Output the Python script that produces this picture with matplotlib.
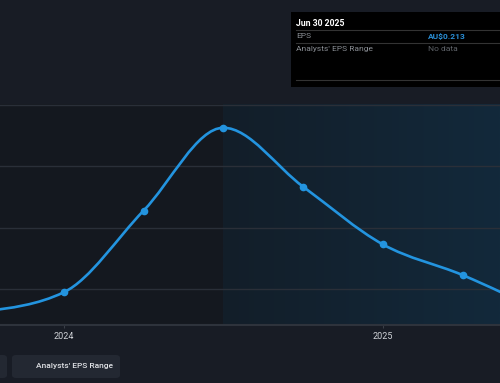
import numpy as np
import matplotlib
matplotlib.use("Agg")
import matplotlib.pyplot as plt
from matplotlib.path import Path
from matplotlib.patches import PathPatch, Rectangle, FancyBboxPatch

# EPS by quarter end (fractional year)
quarters = [2023.75, 2024.0, 2024.25, 2024.5, 2024.75, 2025.0, 2025.25, 2025.5]
eps = [0.214, 0.245, 0.378, 0.513, 0.417, 0.323, 0.273, 0.213]
year_ticks = [2024, 2025]
year_labels = ["2024", "2025"]
grid_vals = [0.25, 0.35, 0.45, 0.55]
forecast_start = 2024.5

BG = "#181c25"
PAST = "#14181f"
BLUE = "#2394df"
GRID = "#2a2f38"
plt.rcParams["font.family"] = ["Roboto", "DejaVu Sans"]


def monotone_path(x, y):
    # d3 curveMonotoneX style cubic bezier
    x = np.asarray(x, float)
    y = np.asarray(y, float)
    n = len(x)
    h = np.diff(x)
    s = np.diff(y) / h
    t = np.zeros(n)
    for i in range(1, n - 1):
        p = (s[i - 1] * h[i] + s[i] * h[i - 1]) / (h[i - 1] + h[i])
        t[i] = (np.sign(s[i - 1]) + np.sign(s[i])) * min(abs(s[i - 1]), abs(s[i]), 0.5 * abs(p))
    t[0] = (3 * s[0] - t[1]) / 2
    t[-1] = (3 * s[-1] - t[-2]) / 2
    verts = [(x[0], y[0])]
    codes = [Path.MOVETO]
    for i in range(n - 1):
        dx = h[i] / 3
        verts += [(x[i] + dx, y[i] + t[i] * dx), (x[i + 1] - dx, y[i + 1] - t[i + 1] * dx), (x[i + 1], y[i + 1])]
        codes += [Path.CURVE4] * 3
    return Path(verts, codes)


fig = plt.figure(figsize=(5, 3.83), dpi=100)
fig.patch.set_facecolor(BG)
ax = fig.add_axes([0, 58 / 383, 1, 221 / 383])
ax.set_facecolor(PAST)

x0, x1 = 2023.80, 2025.367
y0, y1 = 0.1917, 0.5517
ax.set_xlim(x0, x1)
ax.set_ylim(y0, y1)

# forecast shading, gradient left to right
grad = np.linspace(0, 1, 256).reshape(1, -1)
cmap = matplotlib.colors.LinearSegmentedColormap.from_list("fc", ["#131e29", "#12293b"])
ax.imshow(grad, cmap=cmap, aspect="auto", extent=[forecast_start, x1, y0, y1], zorder=0)

for g in grid_vals:
    ax.axhline(g, color=GRID, lw=1, zorder=1)

ax.add_patch(PathPatch(monotone_path(quarters, eps), fill=False, ec=BLUE, lw=1.9, zorder=3))
ax.plot(quarters, eps, "o", color=BLUE, ms=4.5, zorder=4)

ax.set_xticks(year_ticks)
ax.set_xticklabels(year_labels)
ax.set_yticks([])
ax.tick_params(axis="x", colors="#3a3f48", labelcolor="#d0d3d8", labelsize=6.5, length=2, pad=3)
for side in ["top", "left", "right"]:
    ax.spines[side].set_visible(False)
ax.spines["bottom"].set_color("#2e333c")
ax.spines["bottom"].set_linewidth(1.5)

# tooltip
fig.patches.append(Rectangle((291 / 500, 1 - 87 / 383), 220 / 500, 75 / 383,
                             transform=fig.transFigure, fc="black", ec="none", zorder=5))
for yy in [30, 43, 80]:
    fig.add_artist(plt.Line2D([296 / 500, 1], [1 - yy / 383] * 2, color="#333333", lw=0.8, zorder=6))
fig.text(296 / 500, 1 - 23 / 383, "Jun 30 2025", color="white", fontsize=6.2, fontweight="bold", va="center", zorder=7)
fig.text(296 / 500, 1 - 36.5 / 383, "EPS", color="#8a8e94", fontsize=6, va="center", zorder=7)
fig.text(428 / 500, 1 - 36.5 / 383, "AU$0.213", color="#2a8fd6", fontsize=6, fontweight="bold", va="center", zorder=7)
fig.text(296 / 500, 1 - 49 / 383, "Analysts' EPS Range", color="#8a8e94", fontsize=6, va="center", zorder=7)
fig.text(428 / 500, 1 - 49 / 383, "No data", color="#5f6369", fontsize=6, va="center", zorder=7)

# legend boxes
for bx, bw in [(-40, 47), (12, 108)]:
    fig.patches.append(FancyBboxPatch((bx / 500, 1 - 378 / 383), bw / 500, 23 / 383,
                                      boxstyle="round,pad=0,rounding_size=0.008",
                                      transform=fig.transFigure, fc="#232832", ec="none"))
fig.add_artist(matplotlib.patches.Circle((22 / 500, 1 - 365 / 383), 3.2 / 500, transform=fig.transFigure, fc="#1f6f9c", ec="none"))
fig.add_artist(matplotlib.patches.Circle((27 / 500, 1 - 365 / 383), 3.2 / 500, transform=fig.transFigure, fc="#3aa6a8", ec="none"))
fig.text(36 / 500, 1 - 366 / 383, "Analysts' EPS Range", color="#e0e2e6", fontsize=6.0, fontweight="medium", va="center")

fig.savefig("out.png", dpi=100, facecolor=BG)
